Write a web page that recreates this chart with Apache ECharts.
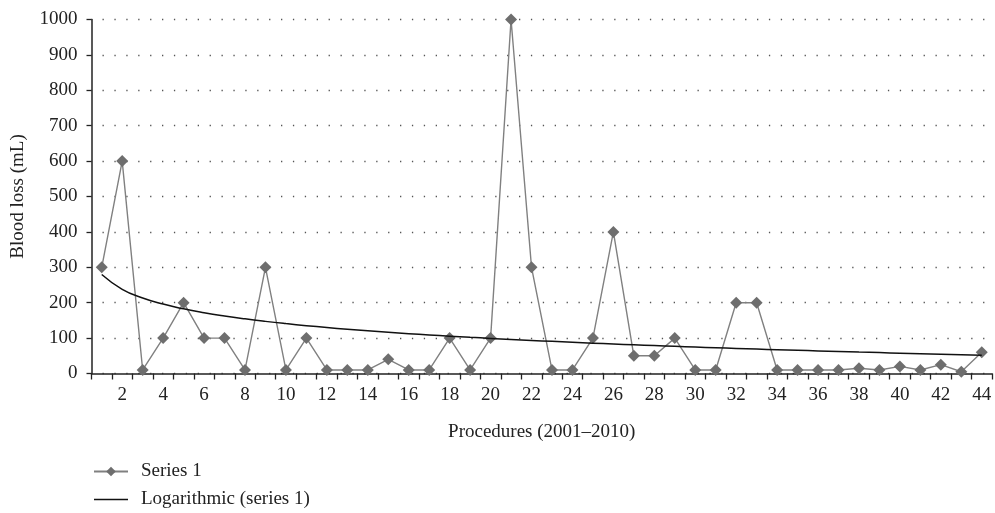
<!DOCTYPE html>
<html>
<head>
<meta charset="utf-8">
<style>
  html, body { margin: 0; padding: 0; background: #fff; }
  #chart { width: 995px; height: 513px; }
</style>
<script src="https://cdn.jsdelivr.net/npm/echarts@6/dist/echarts.min.js"></script>
</head>
<body>
<div id="chart"></div>
<script>
// Procedure numbers (2001–2010)
const procedures = Array.from({ length: 44 }, (_, i) => String(i + 1));

// Blood loss per procedure (mL)
const bloodLoss = [
  300, 600, 10, 100, 200, 100, 100, 10, 300, 10,
  100, 10, 10, 10, 40, 10, 10, 100, 10, 100,
  1000, 300, 10, 10, 100, 400, 50, 50, 100, 10,
  10, 200, 200, 10, 10, 10, 10, 15, 10, 20,
  10, 25, 5, 60
];

const yTicks = { min: 0, max: 1000, interval: 100 };

// Least-squares fit y = a*ln(x) + b over the series (Excel-style logarithmic trendline)
function logFit(values) {
  const n = values.length;
  let sx = 0, sy = 0, sxx = 0, sxy = 0;
  values.forEach((y, i) => {
    const lx = Math.log(i + 1);
    sx += lx; sy += y; sxx += lx * lx; sxy += lx * y;
  });
  const a = (n * sxy - sx * sy) / (n * sxx - sx * sx);
  const b = (sy - a * sx) / n;
  return values.map((_, i) => a * Math.log(i + 1) + b);
}
const trend = logFit(bloodLoss);

const serif = '"Liberation Serif", "DejaVu Serif", serif';
const chart = echarts.init(document.getElementById('chart'), null, { renderer: 'canvas' });

chart.setOption({
  animation: false,
  backgroundColor: '#ffffff',
  textStyle: { fontFamily: serif },
  grid: { left: 91.5, right: 3, top: 19.5, bottom: 139.5, containLabel: false },
  xAxis: {
    type: 'category',
    data: procedures,
    boundaryGap: true,
    name: 'Procedures (2001\u20132010)',
    nameLocation: 'middle',
    nameGap: 49,
    nameTextStyle: { fontFamily: serif, fontSize: 19, color: '#222' },
    axisLine: { lineStyle: { color: '#222', width: 1.5 } },
    axisTick: { show: true, interval: 0, length: 6, lineStyle: { color: '#222', width: 1.3 } },
    axisLabel: {
      interval: (idx) => idx % 2 === 1,
      margin: 12,
      fontFamily: serif, fontSize: 19, color: '#222'
    },
    splitLine: { show: false }
  },
  yAxis: {
    type: 'value',
    min: yTicks.min, max: yTicks.max, interval: yTicks.interval,
    name: 'Blood loss (mL)',
    nameLocation: 'middle',
    nameGap: 64,
    nameRotate: 90,
    nameTextStyle: { fontFamily: serif, fontSize: 19, color: '#222' },
    axisLine: { show: true, lineStyle: { color: '#222', width: 1.5 } },
    axisTick: { show: true, length: 5, lineStyle: { color: '#222', width: 1.3 } },
    axisLabel: {
      margin: 14, fontFamily: serif, fontSize: 19, color: '#222',
      formatter: (v) => String(v)
    },
    splitLine: {
      show: true,
      lineStyle: { color: '#555', width: 1.3, type: [1.3, 10.6], dashOffset: -11 }
    }
  },
  legend: {
    orient: 'vertical',
    left: 93, top: 462,
    padding: 0,
    itemWidth: 34, itemHeight: 12, itemGap: 9,
    textStyle: { fontFamily: serif, fontSize: 19, color: '#222', padding: [0, 0, 0, 8] },
    data: [
      { name: 'Series 1' },
      { name: 'Logarithmic (series 1)', icon: 'path://M0,0 H34 V1.5 H0 Z' }
    ]
  },
  series: [
    {
      name: 'Series 1',
      type: 'line',
      data: bloodLoss,
      symbol: 'diamond',
      symbolSize: 12,
      itemStyle: { color: '#6e6e6e' },
      lineStyle: { color: '#808080', width: 1.4 },
      z: 3
    },
    {
      name: 'Logarithmic (series 1)',
      type: 'line',
      data: trend,
      symbol: 'none',
      smooth: true,
      itemStyle: { color: '#111' },
      lineStyle: { color: '#111', width: 1.5 },
      z: 4
    }
  ]
});
</script>
</body>
</html>
